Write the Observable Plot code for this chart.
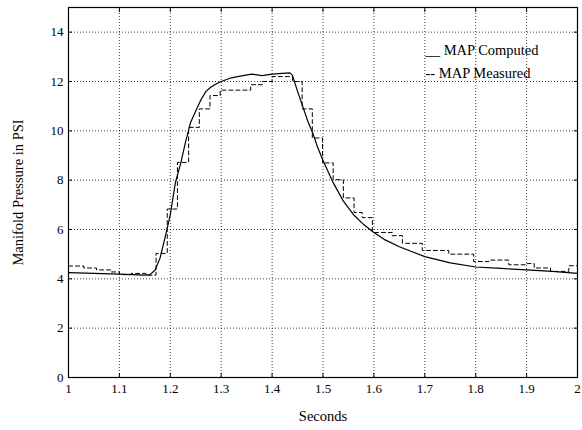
<!DOCTYPE html>
<html>
<head>
<meta charset="utf-8">
<script src="https://cdn.jsdelivr.net/npm/d3@7"></script>
<script src="https://cdn.jsdelivr.net/npm/@observablehq/plot@0.6"></script>
<style>
  html, body { margin: 0; padding: 0; background: #fff; }
  #chart svg { display: block; }
</style>
</head>
<body>
<div id="chart"></div>
<script>
// Computed MAP (solid)
const computedT = [1.00, 1.05, 1.10, 1.15, 1.16, 1.17, 1.18, 1.19, 1.20, 1.21, 1.22, 1.23, 1.24, 1.25, 1.26, 1.27, 1.28, 1.29, 1.30, 1.32, 1.34, 1.36, 1.38, 1.40, 1.42, 1.435, 1.44, 1.45, 1.46, 1.47, 1.48, 1.49, 1.50, 1.52, 1.54, 1.56, 1.58, 1.60, 1.62, 1.65, 1.70, 1.75, 1.80, 1.85, 1.90, 1.95, 2.00];
const computedV = [4.25, 4.22, 4.19, 4.15, 4.17, 4.35, 4.85, 5.7, 6.6, 7.9, 8.65, 9.55, 10.35, 10.8, 11.25, 11.6, 11.78, 11.9, 12.0, 12.15, 12.23, 12.3, 12.24, 12.3, 12.33, 12.35, 12.25, 11.6, 11.0, 10.4, 9.9, 9.3, 8.8, 7.9, 7.15, 6.6, 6.2, 5.88, 5.6, 5.3, 4.9, 4.65, 4.48, 4.42, 4.36, 4.3, 4.22];

// Measured MAP (dashed, stepped)
const measuredT = [1.000, 1.030, 1.055, 1.083, 1.100, 1.123, 1.152, 1.172, 1.194, 1.214, 1.236, 1.257, 1.278, 1.298, 1.358, 1.381, 1.400, 1.440, 1.459, 1.479, 1.499, 1.520, 1.540, 1.561, 1.577, 1.597, 1.636, 1.656, 1.695, 1.747, 1.796, 1.826, 1.865, 1.901, 1.915, 1.947, 1.983, 2.000];
const measuredV = [4.52, 4.44, 4.36, 4.28, 4.17, 4.22, 4.15, 5.03, 6.83, 8.72, 10.14, 10.89, 11.43, 11.65, 11.87, 12.0, 12.2, 12.0, 10.89, 9.71, 8.70, 8.02, 7.28, 6.69, 6.48, 5.88, 5.75, 5.44, 5.15, 5.0, 4.7, 4.76, 4.57, 4.62, 4.44, 4.30, 4.53, 4.53];

const xTicks = [1, 1.1, 1.2, 1.3, 1.4, 1.5, 1.6, 1.7, 1.8, 1.9, 2];
const yTicks = [0, 2, 4, 6, 8, 10, 12, 14];
const xLabel = ["Seconds"];
const yLabel = ["Manifold Pressure in PSI"];
const legendLabels = ["__ MAP Computed", "-- MAP Measured"];

const computed = computedT.map((t, i) => ({t, v: computedV[i]}));
const measured = measuredT.map((t, i) => ({t, v: measuredV[i]}));

const font = "'Liberation Serif', 'Times New Roman', serif";

const chart = Plot.plot({
  width: 582,
  height: 430,
  marginLeft: 68,
  marginRight: 5,
  marginTop: 7,
  marginBottom: 53,
  style: {fontFamily: font, fontSize: "13px", color: "#000", background: "#fff"},
  x: {domain: [1, 2]},
  y: {domain: [0, 15]},
  marks: [
    Plot.gridX(xTicks, {stroke: "#000", strokeOpacity: 0.75, strokeDasharray: "1,2"}),
    Plot.gridY(yTicks, {stroke: "#000", strokeOpacity: 0.75, strokeDasharray: "1,2"}),
    Plot.axisX(xTicks, {anchor: "bottom", tickSize: -4, tickPadding: 10, label: null, tickFormat: d => String(d)}),
    Plot.axisX(xTicks, {anchor: "top", tickSize: -4, label: null, tickFormat: () => ""}),
    Plot.axisY(yTicks, {anchor: "left", tickSize: -4, tickPadding: 9, label: null, tickFormat: d => String(d)}),
    Plot.axisY(yTicks, {anchor: "right", tickSize: -4, label: null, tickFormat: () => ""}),
    Plot.frame({stroke: "#000", strokeWidth: 1.2}),
    Plot.line(computed, {x: "t", y: "v", stroke: "#000", strokeWidth: 1.2}),
    Plot.line(measured, {x: "t", y: "v", stroke: "#000", strokeWidth: 1, strokeDasharray: "4,3", curve: "step-after"}),
    Plot.text(xLabel, {text: d => d, frameAnchor: "bottom", dy: 43, fontSize: 14.5, fill: "#000"}),
    Plot.text(yLabel, {text: d => d, frameAnchor: "left", textAnchor: "middle", dx: -50, rotate: -90, fontSize: 14.5, fill: "#000"}),
    Plot.text(legendLabels.slice(0, 1), {text: d => d, frameAnchor: "top-right", textAnchor: "start", dx: -152, dy: 37, fontSize: 14.5, fill: "#000"}),
    Plot.text(legendLabels.slice(1, 2), {text: d => d, frameAnchor: "top-right", textAnchor: "start", dx: -152, dy: 60, fontSize: 14.5, fill: "#000"})
  ]
});
document.getElementById("chart").appendChild(chart);
</script>
</body>
</html>
